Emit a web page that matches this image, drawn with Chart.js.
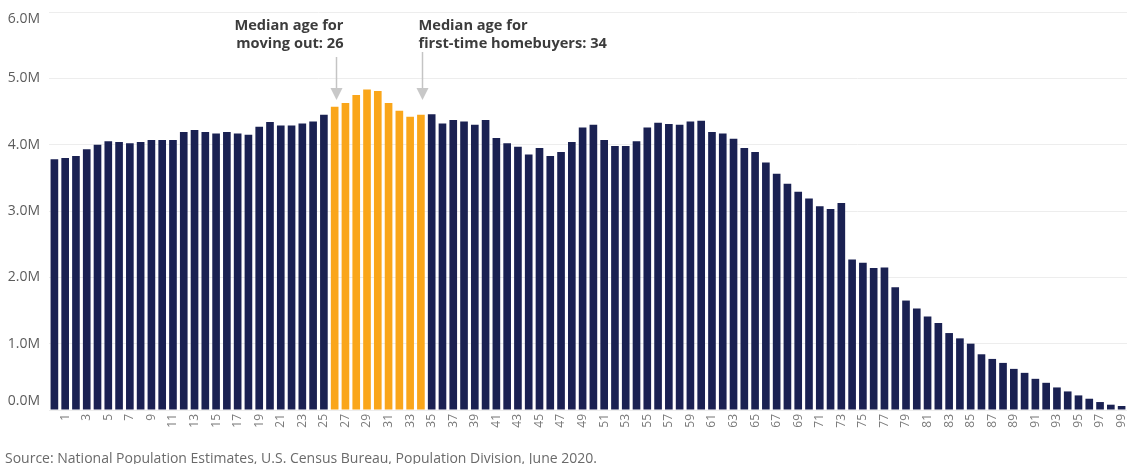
<!DOCTYPE html>
<html>
<head>
<meta charset="utf-8">
<script src="https://cdn.jsdelivr.net/npm/chart.js@4.4.1/dist/chart.umd.min.js"></script>
<style>
  html, body { margin: 0; padding: 0; background: #ffffff; }
  #wrap { position: relative; width: 1127px; height: 464px; }
</style>
</head>
<body>
<div id="wrap"><canvas id="chart" width="1127" height="464"></canvas></div>
<script>
// U.S. resident population by single year of age (millions)
const ages = Array.from({ length: 100 }, (_, i) => String(i));

const population = [
  3.78, 3.80, 3.83, 3.93, 4.00, 4.05, 4.04, 4.02, 4.04, 4.07,
  4.07, 4.07, 4.19, 4.22, 4.19, 4.17, 4.19, 4.17, 4.15, 4.27,
  4.34, 4.29, 4.29, 4.32, 4.35, 4.45, 4.57, 4.63, 4.75, 4.83,
  4.81, 4.63, 4.51, 4.42, 4.45, 4.46, 4.32, 4.37, 4.35, 4.30,
  4.37, 4.10, 4.02, 3.97, 3.85, 3.95, 3.83, 3.89, 4.04, 4.26,
  4.30, 4.07, 3.98, 3.98, 4.05, 4.26, 4.33, 4.31, 4.30, 4.35,
  4.36, 4.19, 4.17, 4.09, 3.95, 3.89, 3.73, 3.56, 3.41, 3.29,
  3.19, 3.07, 3.03, 3.12, 2.27, 2.22, 2.14, 2.15, 1.85, 1.65,
  1.53, 1.41, 1.31, 1.16, 1.08, 1.00, 0.84, 0.77, 0.71, 0.62,
  0.56, 0.47, 0.41, 0.34, 0.28, 0.22, 0.17, 0.12, 0.08, 0.06
];

// Ages between leaving home and buying a first home
const highlightAges = [26, 27, 28, 29, 30, 31, 32, 33, 34];

const yTickValues = [0, 1, 2, 3, 4, 5, 6];

const notes = [
  { age: 26, lines: ['Median age for', 'moving out: 26'], align: 'right' },
  { age: 34, lines: ['Median age for', 'first-time homebuyers: 34'], align: 'left' }
];

const sourceText = 'Source: National Population Estimates, U.S. Census Bureau, Population Division, June 2020.';

const NAVY = '#1a2152';
const ORANGE = '#faa61a';
const FONT = '"Open Sans", "DejaVu Sans", sans-serif';

const barColors = ages.map(a => highlightAges.includes(Number(a)) ? ORANGE : NAVY);

// Y-axis labels, kept inside the plot's vertical bounds
const yLabelsPlugin = {
  id: 'yLabels',
  afterDraw(chart) {
    const { ctx, chartArea } = chart;
    const y = chart.scales.y;
    ctx.save();
    ctx.font = '14px ' + FONT;
    ctx.fillStyle = '#5c5c5c';
    ctx.textAlign = 'right';
    ctx.textBaseline = 'middle';
    y.ticks.forEach(t => {
      let py = y.getPixelForValue(t.value);
      py = Math.min(Math.max(py, chartArea.top + 7), chartArea.bottom - 9);
      ctx.fillText(t.value.toFixed(1) + 'M', chartArea.left - 9, py);
    });
    ctx.restore();
  }
};

// Callout text with downward arrows pointing at the bars
const notesPlugin = {
  id: 'notes',
  afterDatasetsDraw(chart) {
    const { ctx } = chart;
    const x = chart.scales.x;
    ctx.save();
    notes.forEach(n => {
      const ax = Math.round(x.getPixelForValue(ages.indexOf(String(n.age)))) + 1.5;
      ctx.font = 'bold 14.6px ' + FONT;
      ctx.fillStyle = '#3c3c3c';
      ctx.textBaseline = 'alphabetic';
      ctx.textAlign = n.align;
      const tx = n.align === 'right' ? ax + 7 : ax - 4;
      n.lines.forEach((line, i) => ctx.fillText(line, tx, 30 + i * 18));
      const top = n.align === 'right' ? 57 : 52;
      ctx.strokeStyle = '#c4c4c4';
      ctx.lineWidth = 1.5;
      ctx.beginPath();
      ctx.moveTo(ax, top);
      ctx.lineTo(ax, 89);
      ctx.stroke();
      ctx.fillStyle = '#c8c8c8';
      ctx.beginPath();
      ctx.moveTo(ax - 6, 88);
      ctx.lineTo(ax + 6, 88);
      ctx.lineTo(ax, 100);
      ctx.closePath();
      ctx.fill();
    });
    ctx.restore();
  }
};

const sourcePlugin = {
  id: 'source',
  afterDraw(chart) {
    const { ctx } = chart;
    ctx.save();
    ctx.font = '14px ' + FONT;
    ctx.fillStyle = '#6a6a6a';
    ctx.textAlign = 'left';
    ctx.textBaseline = 'alphabetic';
    ctx.fillText(sourceText, 5, 463);
    ctx.restore();
  }
};

new Chart(document.getElementById('chart'), {
  type: 'bar',
  data: {
    labels: ages,
    datasets: [{
      data: population,
      backgroundColor: barColors,
      borderWidth: 0,
      barPercentage: 0.71,
      categoryPercentage: 1.0
    }]
  },
  options: {
    responsive: false,
    animation: false,
    devicePixelRatio: 1,
    layout: { padding: { top: 12, left: 0, right: 0, bottom: 0 } },
    plugins: {
      legend: { display: false },
      tooltip: { enabled: false }
    },
    scales: {
      x: {
        grid: { display: false, drawTicks: false },
        border: { display: false },
        ticks: {
          autoSkip: false,
          minRotation: 90,
          maxRotation: 90,
          padding: 4,
          color: '#7a7a7a',
          font: { family: FONT, size: 12 },
          callback: (v, i) => (i % 2 === 1 ? ages[i] : '')
        },
        afterFit: s => { s.height = 54; s.paddingLeft = 0; s.paddingRight = 0; }
      },
      y: {
        min: 0,
        max: 6,
        afterBuildTicks: s => { s.ticks = yTickValues.map(v => ({ value: v })); },
        grid: { color: '#ededed', lineWidth: 1, drawTicks: false },
        border: { display: false },
        ticks: { display: false },
        afterFit: s => { s.width = 49; }
      }
    }
  },
  plugins: [yLabelsPlugin, notesPlugin, sourcePlugin]
});
</script>
</body>
</html>
